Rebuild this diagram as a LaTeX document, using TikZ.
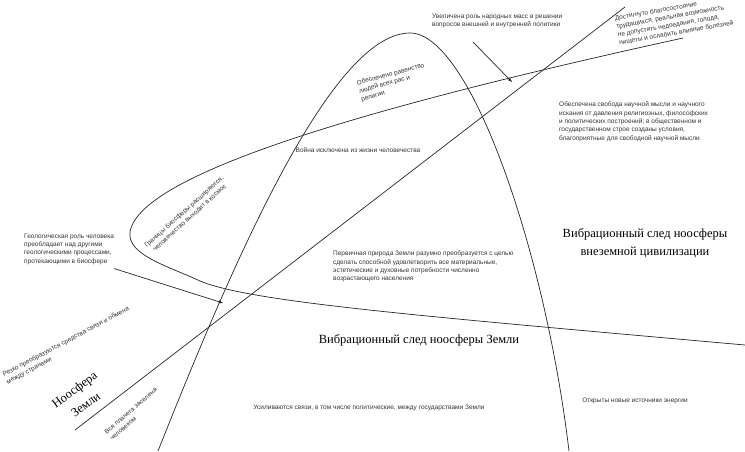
\documentclass[tikz,border=0pt]{standalone}
\usepackage{fontspec}
\setmainfont{Liberation Serif}
\setsansfont{Liberation Sans}
\usetikzlibrary{arrows.meta}

\begin{document}
\begin{tikzpicture}[
  x=1pt, y=-1pt,
  font=\sffamily,
  curve/.style={draw=black!85, line width=0.7pt},
  pointer/.style={curve, -{Stealth[length=5pt, width=3.5pt]}},
  note/.style={font=\sffamily\fontsize{6.5}{8.3}\selectfont, text=black!80,
               align=left, inner sep=0pt},
  trace/.style={font=\rmfamily\fontsize{12.5}{18.5}\selectfont, align=center, inner sep=0pt},
]
\useasboundingbox (0,0) rectangle (745,451);

% ---- Earth noosphere arch ----
\draw[curve] (158,451) .. controls (230,270) and (330,33) .. (410,33)
                       .. controls (470,33) and (545,250) .. (569,451);

% ---- extraterrestrial noosphere loop ----
\draw[curve] (683,38) .. controls (400,100) and (140,170) .. (130,232)
                      .. controls (127,255) and (168,266) .. (200,281)
                      .. controls (250,302) and (420,316) .. (745,345);

% ---- Earth noosphere axis ----
\coordinate (axisLow) at (75,430);
\coordinate (axisHigh) at (625,7);
\draw[curve] (axisLow) -- (axisHigh);
\node[trace, rotate=37] (noo) at (80,397) {Ноосфера\\Земли};

% ---- stages, lower left ----
\node[note, anchor=west] (geo) at (24,249)
  {Геологическая роль человека\\преобладает над другими\\геологическими процессами,\\протекающими в биосфере};
\node[note, anchor=west, rotate=28] (links) at (5,379)
  {Резко преобразуются средства связи и обмена\\между странами};
\node[note, anchor=west, rotate=41] (settle) at (108,436)
  {Вся планета заселена\\человеком};
\node[note, align=center, rotate=42] (bounds) at (187,215)
  {Границы биосферы расширяются,\\человечество выходит в космос};

% ---- stages, inside the arch ----
\node[note] (war) at (358,150) {Война исключена из жизни человечества};
\node[note, anchor=west, rotate=15] (equal) at (359,91.5)
  {Обеспечено равенство\\людей всех рас и\\религии};
\node[note, anchor=west] (nature) at (333,266.7)
  {Первичная природа Земли разумно преобразуется с целью\\сделать способной удовлетворить все материальные,\\эстетические и духовные потребности численно\\возрастающего населения};
\node[trace] (traceEarth) at (419,340) {Вибрационный след ноосферы Земли};
\node[note] (ties) at (369,408)
  {Усиливаются связи, в том числе политические, между государствами Земли};

% ---- stages, upper right ----
\node[note, anchor=west] (masses) at (432,21)
  {Увеличена роль народных масс в решении\\вопросов внешней и внутренней политики};
\node[note, anchor=west, rotate=10] (wealth) at (617,31)
  {Достигнуто благосостояние\\трудящихся, реальная возможность\\не допустить недоедания, голода,\\нищеты и ослабить влияние болезней};
\node[note, anchor=west] (science) at (559,121.7)
  {Обеспечена свобода научной мысли и научного\\искания от давления религиозных, философских\\и политических построений; в общественном и\\государственном строе созданы условия,\\благоприятные для свободной научной мысли};
\node[trace] (traceAlien) at (645,243)
  {Вибрационный след ноосферы\\внеземной цивилизации};
\node[note] (energy) at (635,401) {Открыты новые источники энергии};

% ---- pointers ----
\coordinate (geoTip) at (223,303);
\draw[pointer] ([yshift=-4pt]geo.south east) -- (geoTip);
\coordinate (massFrom) at (473,42);
\coordinate (massTip) at (512,82);
\draw[pointer] (massFrom) -- (massTip);

\end{tikzpicture}
\end{document}
